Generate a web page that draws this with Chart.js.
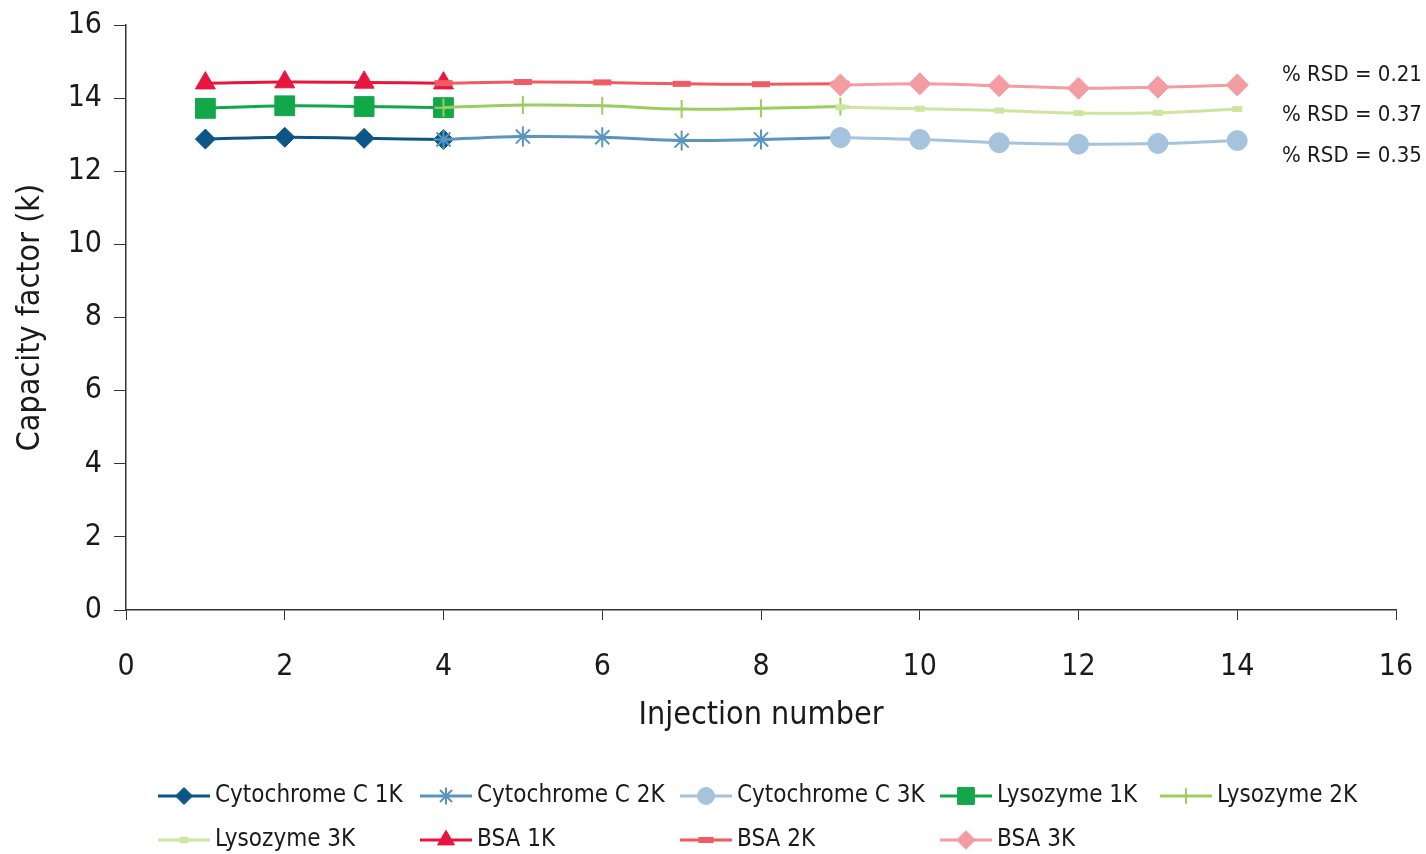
<!DOCTYPE html>
<html>
<head>
<meta charset="utf-8">
<script src="https://cdn.jsdelivr.net/npm/chart.js@4.4.0/dist/chart.umd.min.js"></script>
<style>
  html, body { margin:0; padding:0; background:#fff; }
  #wrap { width:1426px; height:854px; position:relative; }
</style>
</head>
<body>
<div id="wrap"><canvas id="c" width="1426" height="854"></canvas></div>
<script>
// injection numbers for each column generation
const inj1K = [1, 2, 3, 4];
const inj2K = [4, 5, 6, 7, 8, 9];
const inj3K = [9, 10, 11, 12, 13, 14];

const cytC1K = [12.88, 12.93, 12.90, 12.87];
const cytC2K = [12.87, 12.95, 12.93, 12.84, 12.87, 12.92];
const cytC3K = [12.92, 12.87, 12.78, 12.74, 12.76, 12.84];
const lys1K  = [13.72, 13.79, 13.77, 13.74];
const lys2K  = [13.74, 13.81, 13.79, 13.70, 13.72, 13.77];
const lys3K  = [13.75, 13.71, 13.66, 13.59, 13.60, 13.70];
const bsa1K  = [14.41, 14.44, 14.43, 14.41];
const bsa2K  = [14.41, 14.44, 14.43, 14.39, 14.38, 14.39];
const bsa3K  = [14.36, 14.39, 14.34, 14.27, 14.30, 14.36];

const seriesNames = ["Cytochrome C 1K","Cytochrome C 2K","Cytochrome C 3K","Lysozyme 1K","Lysozyme 2K","Lysozyme 3K","BSA 1K","BSA 2K","BSA 3K"];
const rsdLabels = ["% RSD = 0.21", "% RSD = 0.37", "% RSD = 0.35"];

const FONT = "'Liberation Sans Narrow', 'DejaVu Sans Condensed', 'Roboto Condensed', sans-serif";

function pts(xs, ys){ return xs.map((x,i)=>({x:x, y:ys[i]})); }

function ds(i, xs, ys, color, style, radius, bw){
  return {
    label: seriesNames[i],
    data: pts(xs, ys),
    borderColor: color,
    backgroundColor: color,
    borderWidth: 3,
    pointStyle: style,
    pointRadius: radius,
    pointBorderWidth: bw,
    pointBackgroundColor: color,
    pointBorderColor: color,
    tension: 0.35,
    order: 20 - i,
  };
}

const datasets = [
  ds(0, inj1K, cytC1K, "#0b5687", "rectRot", 10, 1),
  ds(1, inj2K, cytC2K, "#5a95c0", "star", 10, 2),
  ds(2, inj3K, cytC3K, "#a6c3de", "circle", 10, 1),
  ds(3, inj1K, lys1K,  "#12a84a", "rect", 14, 1),
  ds(4, inj2K, lys2K,  "#9cce5f", "cross", 9, 2),
  ds(5, inj3K, lys3K,  "#cde59f", "line", 5, 6),
  ds(6, inj1K, bsa1K,  "#e8163c", "triangle", 11.5, 1),
  ds(7, inj2K, bsa2K,  "#ef5b63", "line", 9, 6),
  ds(8, inj3K, bsa3K,  "#f39ca2", "rectRot", 11, 1),
];

// fixed-grid legend + RSD notes
const legendCols = [158, 420, 680, 940, 1160];
const legendRows = [796, 840];
const extras = {
  id: "extras",
  afterDraw(chart){
    const ctx = chart.ctx;
    ctx.save();
    ctx.fillStyle = "#1a1a1a";
    ctx.textBaseline = "middle";
    ctx.textAlign = "left";
    ctx.font = "22px " + FONT;
    const rsdY = [75, 115, 156];
    rsdLabels.forEach((t,i)=> ctx.fillText(t, 1282, rsdY[i]));

    ctx.font = "24px " + FONT;
    chart.data.datasets.forEach((d, i) => {
      const col = i < 5 ? i : i - 5;
      const row = i < 5 ? 0 : 1;
      const x0 = legendCols[col], y = legendRows[row];
      ctx.strokeStyle = d.borderColor;
      ctx.lineWidth = 3;
      ctx.beginPath(); ctx.moveTo(x0, y); ctx.lineTo(x0 + 52, y); ctx.stroke();
      ctx.fillStyle = d.backgroundColor;
      ctx.strokeStyle = d.borderColor;
      ctx.lineWidth = d.pointBorderWidth;
      Chart.helpers.drawPoint(ctx, {
        pointStyle: d.pointStyle,
        radius: d.pointRadius * 0.85,
        rotation: 0,
        borderWidth: d.pointBorderWidth
      }, x0 + 26, y);
      ctx.fillStyle = "#1a1a1a";
      ctx.fillText(d.label, x0 + 57, y);
    });
    ctx.restore();
  }
};

new Chart(document.getElementById("c"), {
  type: "line",
  data: { datasets },
  options: {
    responsive: false,
    animation: false,
    layout: { padding: { top: 25, right: 30, bottom: 119, left: 0 } },
    plugins: { legend: { display: false }, tooltip: { enabled: false } },
    scales: {
      x: {
        type: "linear", min: 0, max: 16,
        ticks: { stepSize: 2, color: "#1a1a1a", font: { family: FONT, size: 30 }, padding: 29 },
        grid: { display: true, drawOnChartArea: false, drawTicks: true, tickLength: 10, color: "#333" },
        border: { display: true, color: "#333", width: 1.5 },
        title: { display: true, text: "Injection number", color: "#1a1a1a", font: { family: FONT, size: 32 }, padding: { top: 4, bottom: 0 } },
        afterFit: s => { s.height = 125; s.paddingLeft = 0; s.paddingRight = 0; }
      },
      y: {
        min: 0, max: 16,
        ticks: { stepSize: 2, color: "#1a1a1a", font: { family: FONT, size: 30 }, padding: 12 },
        grid: { display: true, drawOnChartArea: false, drawTicks: true, tickLength: 12, color: "#333" },
        border: { display: true, color: "#333", width: 1.5 },
        title: { display: true, text: "Capacity factor (k)", color: "#1a1a1a", font: { family: FONT, size: 32 }, padding: { top: 11, bottom: 0 } },
        afterFit: s => { s.width = 126; s.paddingTop = 0; s.paddingBottom = 0; }
      }
    }
  },
  plugins: [extras]
});
</script>
</body>
</html>
